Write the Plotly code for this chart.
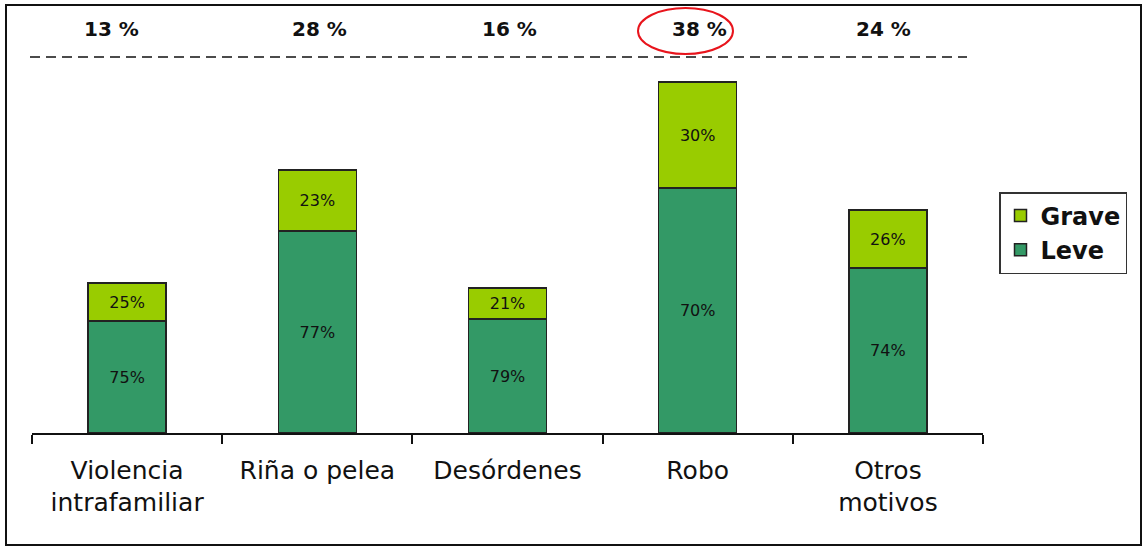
import plotly.graph_objects as go

categories = ["Violencia<br>intrafamiliar", "Riña o pelea", "Desórdenes", "Robo", "Otros<br>motivos"]
leve_values = [112, 202, 114, 245, 165]
grave_values = [38, 61, 31, 106, 58]
leve_labels = ["75%", "77%", "79%", "70%", "74%"]
grave_labels = ["25%", "23%", "21%", "30%", "26%"]
top_labels = ["13 %", "28 %", "16 %", "38 %", "24 %"]
top_label_shift = [-16, 2, 2, 2, -4]

W, H = 1146, 546
L, R, T, B = 32, 163, 70, 113
pw, ph = W - L - R, H - T - B

def px_x(p):
    return (p - L) / pw

def px_y(p):
    return (H - B - p) / ph

fig = go.Figure()
fig.add_trace(go.Bar(
    name="<b>Leve</b>", x=categories, y=leve_values, text=leve_labels,
    marker=dict(color="#339966", line=dict(color="#222222", width=1.5)),
    textposition="inside", insidetextanchor="middle",
    textfont=dict(family="DejaVu Sans", size=16, color="#111111"),
    width=0.41,
))
fig.add_trace(go.Bar(
    name="<b>Grave</b>", x=categories, y=grave_values, text=grave_labels,
    marker=dict(color="#99CC00", line=dict(color="#222222", width=1.5)),
    textposition="inside", insidetextanchor="middle",
    textfont=dict(family="DejaVu Sans", size=16, color="#111111"),
    width=0.41,
))

for i, lab in enumerate(top_labels):
    fig.add_annotation(x=categories[i], y=px_y(29), xref="x", yref="paper",
                       yanchor="middle", xanchor="center", xshift=top_label_shift[i],
                       text=f"<b>{lab}</b>", showarrow=False,
                       font=dict(family="DejaVu Sans", size=20, color="#111111"))

shapes = [
    dict(type="line", xref="paper", yref="paper", x0=px_x(30), x1=px_x(967),
         y0=px_y(57), y1=px_y(57), line=dict(color="#111111", width=1.5, dash="10px,6px")),
    dict(type="circle", xref="paper", yref="paper", x0=px_x(638), x1=px_x(733),
         y0=px_y(54), y1=px_y(8), line=dict(color="#e8141c", width=2)),
    dict(type="rect", xref="paper", yref="paper", x0=px_x(6), x1=px_x(1141),
         y0=px_y(545), y1=px_y(5), line=dict(color="#111111", width=2)),
]

fig.update_layout(
    width=W, height=H, barmode="stack",
    margin=dict(l=L, r=R, t=T, b=B, autoexpand=False),
    paper_bgcolor="white", plot_bgcolor="white",
    shapes=shapes,
    uniformtext=dict(minsize=16, mode="show"),
    legend=dict(x=px_x(999), y=px_y(192), xanchor="left", yanchor="top",
                traceorder="reversed", bordercolor="#333333", borderwidth=1.5,
                font=dict(family="DejaVu Sans", size=24, color="#111111"),
                bgcolor="white"),
    xaxis=dict(range=[-0.5, 4.5], showline=True, linecolor="#111111", linewidth=1.5,
               ticks="outside", tickson="boundaries", ticklen=9, tickcolor="#111111",
               tickwidth=1.5, showgrid=False, ticklabelstandoff=14,
               tickfont=dict(family="DejaVu Sans", size=25, color="#111111")),
    yaxis=dict(range=[0, ph], visible=False, showgrid=False),
    showlegend=True,
)

fig.write_html("out.html", config={"displayModeBar": False},
               post_script="document.body.style.margin='0';document.body.style.overflow='hidden';")
